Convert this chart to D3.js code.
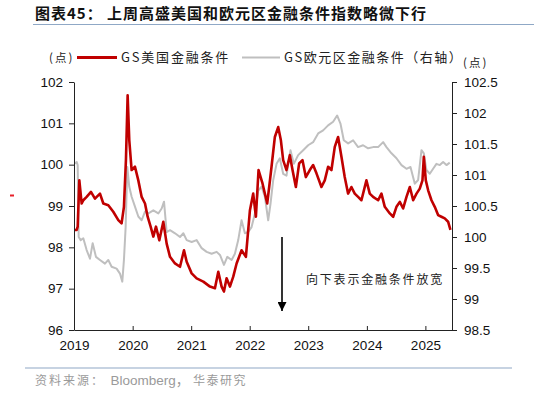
<!DOCTYPE html>
<html lang="zh">
<head>
<meta charset="UTF-8">
<title>GS金融条件指数</title>
<script src="https://cdn.jsdelivr.net/npm/d3@7"></script>
<style>
  body { margin: 0; background: #fff; }
  svg text { font-family: "Liberation Sans", Arial, "Noto Sans CJK SC", sans-serif; }
  .cjk { font-family: "Noto Sans CJK SC", sans-serif; }
</style>
</head>
<body>
<div id="chart"></div>
<script>
// dates are decimal years
// GS美国金融条件 (左轴)
const usFci = [
  [2019.313, 98.42], [2019.342, 98.42], [2019.359, 98.50], [2019.387, 99.62], [2019.427, 99.06],
  [2019.455, 99.14], [2019.512, 99.22], [2019.586, 99.34], [2019.654, 99.18], [2019.740, 99.30],
  [2019.797, 99.06], [2019.882, 99.02], [2019.967, 98.86], [2020.053, 98.66], [2020.109, 98.58],
  [2020.149, 98.98], [2020.183, 100.11], [2020.212, 101.68], [2020.240, 100.59], [2020.280, 99.87],
  [2020.337, 99.95], [2020.394, 99.62], [2020.451, 99.22], [2020.508, 99.06], [2020.553, 98.74],
  [2020.604, 98.50], [2020.650, 98.26], [2020.695, 98.50], [2020.752, 98.17], [2020.820, 98.62],
  [2020.877, 98.09], [2020.934, 97.77], [2021.019, 97.61], [2021.105, 97.53], [2021.173, 97.93],
  [2021.219, 97.65], [2021.304, 97.37], [2021.389, 97.25], [2021.503, 97.17], [2021.617, 97.05],
  [2021.702, 97.01], [2021.759, 97.41], [2021.816, 97.05], [2021.856, 96.93], [2021.901, 97.25],
  [2021.958, 97.05], [2022.015, 97.29], [2022.072, 97.61], [2022.157, 97.93], [2022.231, 97.77],
  [2022.300, 98.90], [2022.356, 99.30], [2022.402, 98.74], [2022.447, 99.87], [2022.516, 99.54],
  [2022.595, 99.06], [2022.629, 99.46], [2022.669, 99.95], [2022.726, 100.67], [2022.783, 100.91],
  [2022.829, 100.59], [2022.868, 100.11], [2022.925, 99.87], [2022.982, 100.23], [2023.028, 99.87],
  [2023.085, 99.46], [2023.141, 100.03], [2023.198, 100.11], [2023.255, 99.70], [2023.323, 99.87],
  [2023.380, 99.99], [2023.437, 99.79], [2023.522, 99.46], [2023.579, 99.62], [2023.636, 99.95],
  [2023.693, 99.87], [2023.750, 100.43], [2023.807, 100.67], [2023.864, 100.19], [2023.920, 99.70],
  [2023.977, 99.30], [2024.034, 99.46], [2024.091, 99.30], [2024.148, 99.22], [2024.205, 99.14],
  [2024.290, 99.62], [2024.347, 99.30], [2024.404, 99.22], [2024.490, 99.14], [2024.546, 99.30],
  [2024.603, 98.98], [2024.689, 98.82], [2024.746, 98.74], [2024.802, 98.98], [2024.859, 99.10],
  [2024.916, 98.94], [2024.973, 99.22], [2025.030, 99.46], [2025.087, 99.14], [2025.144, 99.30],
  [2025.200, 99.42], [2025.246, 99.62], [2025.269, 100.19], [2025.303, 99.62], [2025.343, 99.38],
  [2025.400, 99.14], [2025.456, 98.98], [2025.513, 98.78], [2025.570, 98.74], [2025.627, 98.70],
  [2025.684, 98.62], [2025.724, 98.42]
];

// GS欧元区金融条件 (右轴)
const euFci = [
  [2019.302, 101.18], [2019.342, 101.21], [2019.359, 101.16], [2019.376, 100.00], [2019.410, 99.95],
  [2019.455, 99.98], [2019.512, 99.79], [2019.569, 99.65], [2019.615, 99.90], [2019.671, 99.68],
  [2019.740, 99.63], [2019.825, 99.57], [2019.882, 99.63], [2019.939, 99.52], [2020.024, 99.49],
  [2020.081, 99.41], [2020.121, 99.28], [2020.149, 99.63], [2020.178, 100.16], [2020.206, 101.13],
  [2020.240, 100.81], [2020.280, 100.65], [2020.337, 100.49], [2020.394, 100.33], [2020.451, 100.27],
  [2020.508, 100.41], [2020.565, 100.38], [2020.650, 100.43], [2020.735, 100.38], [2020.792, 100.46],
  [2020.832, 100.57], [2020.877, 100.08], [2020.934, 100.11], [2021.020, 100.06], [2021.105, 100.00],
  [2021.162, 100.06], [2021.219, 99.95], [2021.304, 99.92], [2021.389, 99.95], [2021.475, 99.82],
  [2021.560, 99.76], [2021.645, 99.73], [2021.731, 99.76], [2021.788, 99.71], [2021.856, 99.55],
  [2021.913, 99.68], [2021.987, 99.63], [2022.043, 99.73], [2022.100, 99.95], [2022.157, 100.27],
  [2022.214, 100.06], [2022.271, 100.08], [2022.328, 100.16], [2022.385, 100.38], [2022.442, 100.75],
  [2022.499, 100.81], [2022.555, 100.65], [2022.612, 100.27], [2022.652, 100.54], [2022.698, 100.92],
  [2022.755, 101.18], [2022.811, 101.27], [2022.868, 101.02], [2022.925, 100.99], [2022.993, 101.40],
  [2023.050, 101.18], [2023.124, 101.32], [2023.210, 101.40], [2023.295, 101.48], [2023.380, 101.53],
  [2023.466, 101.67], [2023.551, 101.72], [2023.636, 101.80], [2023.722, 101.86], [2023.790, 101.96],
  [2023.847, 101.83], [2023.904, 101.56], [2023.978, 101.51], [2024.063, 101.56], [2024.148, 101.45],
  [2024.233, 101.48], [2024.319, 101.43], [2024.404, 101.45], [2024.489, 101.45], [2024.575, 101.53],
  [2024.632, 101.45], [2024.717, 101.35], [2024.802, 101.27], [2024.888, 101.16], [2024.973, 101.10],
  [2025.041, 101.13], [2025.115, 100.86], [2025.172, 100.92], [2025.229, 101.40], [2025.269, 101.35],
  [2025.314, 101.08], [2025.371, 101.02], [2025.428, 101.10], [2025.485, 101.18], [2025.542, 101.16],
  [2025.599, 101.21], [2025.656, 101.16], [2025.712, 101.20]
];

const yearTicks = ["2019-04-19", "2020-04-19", "2021-04-19", "2022-04-19", "2023-04-19", "2024-04-19", "2025-04-19"];
const leftTicks = [96, 97, 98, 99, 100, 101, 102];
const rightTicks = [98.5, 99, 99.5, 100, 100.5, 101, 101.5, 102, 102.5];

const parse = d3.timeParse("%Y-%m-%d");
function fromYear(t) {
  const y = Math.floor(t);
  const a = new Date(y, 0, 1), b = new Date(y + 1, 0, 1);
  return new Date(+a + (t - y) * (b - a));
}

const W = 534, H = 393;
const plot = { left: 74, right: 452, top: 82, bottom: 330 };

const svg = d3.select("#chart").append("svg")
    .attr("width", W)
    .attr("height", H);

const x = d3.scaleTime()
    .domain([parse("2019-04-19"), parse("2025-10-02")])
    .range([plot.left, plot.right]);
const yL = d3.scaleLinear().domain([96, 102]).range([plot.bottom, plot.top]);
const yR = d3.scaleLinear().domain([98.5, 102.5]).range([plot.bottom, plot.top]);

// title
svg.append("text")
    .attr("class", "cjk")
    .attr("x", 35).attr("y", 19)
    .attr("font-size", 15).attr("font-weight", "bold")
    .attr("letter-spacing", 1)
    .attr("fill", "#111")
    .text("图表45：  上周高盛美国和欧元区金融条件指数略微下行");
svg.append("line")
    .attr("x1", 33).attr("x2", W).attr("y1", 24.5).attr("y2", 24.5)
    .attr("stroke", "#8fa8c6").attr("stroke-width", 1);

// lines
const lineUs = d3.line().x(d => x(fromYear(d[0]))).y(d => yL(d[1]));
const lineEu = d3.line().x(d => x(fromYear(d[0]))).y(d => yR(d[1]));

svg.append("path")
    .datum(euFci)
    .attr("d", lineEu)
    .attr("fill", "none").attr("stroke", "#bfbfbf").attr("stroke-width", 2)
    .attr("stroke-linejoin", "round");
svg.append("path")
    .datum(usFci)
    .attr("d", lineUs)
    .attr("fill", "none").attr("stroke", "#c00000").attr("stroke-width", 2.6)
    .attr("stroke-linejoin", "round");

// axes
const axL = svg.append("g")
    .attr("transform", `translate(${plot.left},0)`)
    .call(d3.axisLeft(yL).tickValues(leftTicks).tickFormat(d => d).tickSize(5).tickSizeOuter(0).tickPadding(6));
const axR = svg.append("g")
    .attr("transform", `translate(${plot.right},0)`)
    .call(d3.axisRight(yR).tickValues(rightTicks).tickFormat(d => d).tickSize(5).tickSizeOuter(0).tickPadding(7));
const axB = svg.append("g")
    .attr("transform", `translate(0,${plot.bottom})`)
    .call(d3.axisBottom(x).tickValues(yearTicks.map(parse)).tickFormat(d3.timeFormat("%Y"))
        .tickSize(-4).tickSizeOuter(0).tickPadding(10));

[axL, axR, axB].forEach(g => {
  g.selectAll("text").attr("font-size", 13.5).attr("fill", "#111")
      .attr("font-family", "'Liberation Sans', Arial, sans-serif");
  g.selectAll("line,path").attr("stroke", "#222");
});

// legend
svg.append("text").attr("class", "cjk")
    .attr("x", 49).attr("y", 62).attr("font-size", 11.5).attr("letter-spacing", 2).attr("fill", "#222")
    .text("(点)");
svg.append("line").attr("x1", 77).attr("x2", 117).attr("y1", 57.5).attr("y2", 57.5)
    .attr("stroke", "#c00000").attr("stroke-width", 3);
svg.append("text").attr("class", "cjk")
    .attr("x", 121).attr("y", 62).attr("font-size", 13).attr("letter-spacing", 1.8).attr("fill", "#222")
    .text("GS美国金融条件");
svg.append("line").attr("x1", 242).attr("x2", 280).attr("y1", 57.5).attr("y2", 57.5)
    .attr("stroke", "#bfbfbf").attr("stroke-width", 2);
svg.append("text").attr("class", "cjk")
    .attr("x", 284).attr("y", 62).attr("font-size", 13).attr("letter-spacing", 1.5).attr("fill", "#222")
    .text("GS欧元区金融条件（右轴）");
svg.append("text").attr("class", "cjk")
    .attr("x", 463).attr("y", 67).attr("font-size", 11.5).attr("letter-spacing", 2).attr("fill", "#222")
    .text("(点)");

// annotation arrow
svg.append("defs").append("marker")
    .attr("id", "head").attr("viewBox", "0 0 10 10")
    .attr("refX", 10).attr("refY", 5)
    .attr("markerWidth", 11).attr("markerHeight", 9)
    .attr("markerUnits", "userSpaceOnUse")
    .attr("orient", "auto")
  .append("path").attr("d", "M0,0L10,5L0,10Z").attr("fill", "#000");
svg.append("line")
    .attr("x1", 282).attr("x2", 282).attr("y1", 237).attr("y2", 311)
    .attr("stroke", "#000").attr("stroke-width", 1.6)
    .attr("marker-end", "url(#head)");
svg.append("text").attr("class", "cjk")
    .attr("x", 306).attr("y", 284).attr("font-size", 12).attr("letter-spacing", 1.8).attr("fill", "#222")
    .text("向下表示金融条件放宽");

// stray mark left of the chart
svg.append("rect").attr("x", 10).attr("y", 194.5).attr("width", 4).attr("height", 2).attr("fill", "#e8202a");

// footer
svg.append("line")
    .attr("x1", 25).attr("x2", 512).attr("y1", 368).attr("y2", 368)
    .attr("stroke", "#8fa8c6").attr("stroke-width", 1.2);
svg.append("text").attr("class", "cjk")
    .attr("x", 35).attr("y", 384.5).attr("font-size", 12).attr("fill", "#9a9a9a").attr("letter-spacing", 2)
    .text("资料来源：");
svg.append("text")
    .attr("x", 110.5).attr("y", 384.5).attr("font-size", 13.5).attr("fill", "#9a9a9a")
    .text("Bloomberg，");
svg.append("text").attr("class", "cjk")
    .attr("x", 193).attr("y", 384.5).attr("font-size", 12).attr("fill", "#9a9a9a").attr("letter-spacing", 1.5)
    .text("华泰研究");
</script>
</body>
</html>
